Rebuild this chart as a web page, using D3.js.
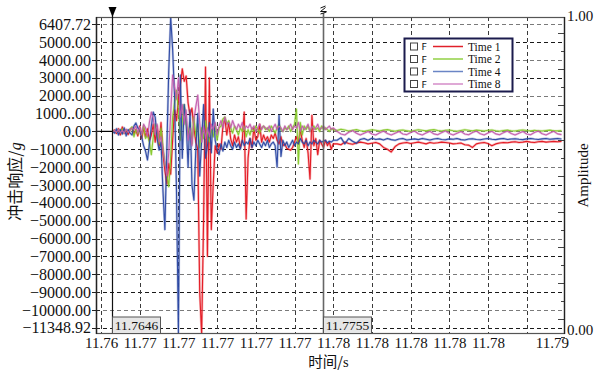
<!DOCTYPE html>
<html><head><meta charset="utf-8">
<script src="https://cdn.jsdelivr.net/npm/d3@7/dist/d3.min.js"></script>
<style>
body{margin:0;background:#fff}
svg{display:block}
text{font-family:"Liberation Serif","Times New Roman","DejaVu Serif",serif;fill:#111}
</style>
</head><body>
<svg id="chart" width="595" height="370"></svg>
<script>
// ---------- DATA ----------
const times = [
11.7646,11.7647,11.7648,11.7649,11.7650,11.7651,11.7652,11.7653,11.7654,11.7655,
11.7656,11.7657,11.7658,11.7659,11.7660,11.7661,11.7662,11.7663,11.7664,11.7665,
11.7666,11.7667,11.7668,11.7669,11.7670,11.7671,11.7672,11.7673,11.7674,11.7675,
11.7676,11.7677,11.7678,11.7679,11.7680,11.7681,11.7682,11.7683,11.7684,11.7685,
11.7686,11.7687,11.7688,11.7689,11.7690,11.7691,11.7692,11.7693,11.7694,11.7695,
11.7696,11.7697,11.7698,11.7699,11.7700,11.7701,11.7702,11.7703,11.7704,11.7705,
11.7706,11.7707,11.7708,11.7709,11.7710,11.7711,11.7712,11.7713,11.7714,11.7715,
11.7716,11.7717,11.7718,11.7719,11.7720,11.7721,11.7722,11.7723,11.7724,11.7725,
11.7726,11.7727,11.7728,11.7729,11.7730,11.7731,11.7732,11.7733,11.7734,11.7735,
11.7736,11.7737,11.7738,11.7739,11.7740,11.7741,11.7742,11.7743,11.7744,11.7745,
11.7746,11.7747,11.7748,11.7749,11.7750,11.7751,11.7752,11.7753,11.7754,11.7755,
11.7756,11.7757,11.7758,11.7759,11.7760,
11.7762,11.7764,11.7766,11.7768,11.7770,11.7772,11.7774,11.7776,11.7778,11.7780,
11.7782,11.7784,11.7786,11.7788,11.7790,11.7792,11.7794,11.7796,11.7798,11.7800,
11.7802,11.7804,11.7806,11.7808,11.7810,11.7812,11.7814,11.7816,11.7818,11.7820,
11.7822,11.7824,11.7826,11.7828,11.7830,11.7832,11.7834,11.7836,11.7838,11.7840,
11.7842,11.7844,11.7846,11.7848,11.7850,11.7852,11.7854,11.7856,11.7858,11.7860,
11.7862,11.7864,11.7866,11.7868,11.7870,11.7872,11.7874,11.7876,11.7878
];

const time1 = [
0,80,-120,150,-200,250,-100,60,-180,120,
200,-150,100,-250,300,-400,200,-300,150,-500,
-200,400,-600,300,-800,500,-1200,-2200,-2950,-1800,
-2400,-500,1200,600,1800,2600,3500,2800,3100,1600,
900,1300,200,-600,-1000,-9000,-11349,-5000,3600,-7000,
3000,-5500,-2950,-800,-1200,-700,-1000,300,700,-200,
500,-400,-800,-200,-600,-300,-900,-500,1080,-4900,
-1500,-400,-900,200,-500,-300,400,-600,-200,-500,
-300,-600,-200,-400,-100,-500,-700,-300,-800,-700,
-950,-1000,-1050,-900,-600,-300,-700,100,-500,-900,
-400,-1200,-2670,900,-800,-400,-1300,-500,-700,-900,
-500,-800,-600,-1000,-700,
-700,-750,-600,-680,-720,-650,-600,-640,-700,-660,
-620,-700,-900,-1000,-1150,-850,-700,-650,-620,-680,
-640,-600,-650,-700,-620,-660,-640,-600,-620,-650,
-700,-680,-650,-750,-770,-900,-700,-650,-620,-680,
-800,-700,-650,-620,-640,-600,-580,-620,-600,-560,
-600,-620,-580,-560,-600,-580,-560,-580,-560
];

const time2 = [
0,50,-60,100,-80,150,-100,80,-50,120,
250,-300,100,-150,200,-250,300,-400,-200,-600,
-1300,-300,400,-200,-700,200,-900,-1800,-2400,-3100,
-1500,800,1600,2300,1200,-500,600,1500,400,-200,
500,-700,800,-300,400,-900,200,-400,600,-200,
-600,100,-300,400,-500,200,300,700,800,400,
600,200,-100,300,100,-200,200,0,300,-300,
100,-200,200,0,300,100,-100,200,300,100,
200,0,300,100,-100,200,400,100,0,200,
100,300,0,200,400,1250,-1830,500,-200,300,
100,300,0,200,300,100,200,0,300,100,
200,100,0,150,100,
50,120,80,20,60,100,40,0,50,90,
60,20,70,100,50,10,60,80,40,0,
50,90,60,30,70,100,50,20,60,80,
40,10,50,90,60,30,70,50,20,60,
80,40,10,50,70,40,20,60,80,50,
30,60,40,20,50,70,40,30,50
];

const time4 = [
0,-100,150,-200,100,-150,200,-250,100,-100,
-200,300,470,200,100,-300,-800,-1100,-1600,-700,
300,1080,800,-400,-1050,-600,-3300,-5500,-1000,3400,
6400,4600,2000,-3300,-11349,3150,-1500,1500,500,-2000,
1200,-3000,-3850,-1000,1000,-2500,-500,1500,-1500,-800,
500,-1200,1250,-500,-1000,-1300,-700,-1100,-600,-900,
-500,-800,-1000,-600,-900,-700,-1000,-500,-800,-600,
-700,-400,-900,-600,-800,-500,-700,-900,-600,-800,
-500,-900,-700,-600,-800,-2000,900,-1400,-500,-800,
-600,-900,-700,-500,-800,-600,-700,-400,-600,-700,
-500,-800,-600,-700,-500,-600,-700,-500,-600,-550,
-500,-650,-550,-600,-500,
-500,-350,-700,-400,-550,-670,-450,-400,-500,-380,
-450,-420,-480,-400,-460,-500,-430,-400,-480,-450,
-420,-460,-400,-440,-480,-430,-400,-450,-470,-420,
-440,-400,-460,-480,-430,-410,-450,-470,-430,-400,
-440,-460,-420,-400,-450,-430,-410,-440,-460,-420,
-400,-430,-450,-420,-400,-440,-420,-400,-430
];

const time8 = [
0,50,-50,100,-80,60,-100,120,-60,80,
200,100,300,-100,250,-200,400,200,-300,500,
1080,700,-200,400,-600,-300,-1000,-1800,-2500,-1200,
1000,3150,2500,1800,3000,800,1500,400,1200,-500,
200,-800,600,1400,2030,500,-600,300,-400,200,
-300,400,100,500,-200,300,600,200,800,400,
500,200,600,300,100,400,200,500,100,300,
200,400,100,300,0,200,400,100,300,200,
100,300,0,200,400,100,300,200,0,300,
100,200,400,100,300,200,500,0,300,100,
200,400,0,300,100,200,400,100,200,300,
100,200,300,100,200,
0,-150,-200,-50,50,-100,-200,-100,0,-150,
-200,-80,20,-120,-200,-100,0,-150,-180,-60,
20,-130,-200,-90,10,-140,-190,-70,30,-120,
-200,-100,0,-150,-190,-60,20,-130,-200,-90,
10,-140,-190,-70,20,-120,-200,-100,0,-150,
-190,-60,20,-130,-200,-90,10,-140,-180
];

const preTriggerTimes = [11.76374, 11.7646];
const preTriggerValues = [0, 0];

const seriesNames = ["Time 1", "Time 2", "Time 4", "Time 8"];
const seriesColors = ["#e3141e", "#86c82a", "#2a47a3", "#c25cad"];
const legendColors = ["#e0202a", "#92d044", "#6a85c5", "#d58cc8"];

const xDomain = [11.76374, 11.78798];
const yDomain = [-11348.92, 6407.72];

const yTickValues = [6407.72,5000,4000,3000,2000,1000,0,-1000,-2000,-3000,-4000,-5000,-6000,-7000,-8000,-9000,-10000,-11348.92];
const yTickLabels = ["6407.72","5000.00","4000.00","3000.00","2000.00","1000..00","0.00","\u22121000.00","\u22122000.00","\u22123000.00","\u22124000.00","\u22125000.00","\u22126000.00","\u22127000.00","\u22128000.00","\u22129000.00","\u221210000.00","\u221211348.92"];
const yGridValues = [6000,5000,4000,3000,2000,1000,0,-1000,-2000,-3000,-4000,-5000,-6000,-7000,-8000,-9000,-10000,-11000];

const xTickValues = [11.764,11.766,11.768,11.770,11.772,11.774,11.776,11.778,11.780,11.782,11.784,11.786];
const xTickLabels = ["11.76","11.77","11.77","11.77","11.77","11.77","11.78","11.78","11.78","11.78","11.78",""];
const xEndLabel = "11.79";

const cursorTimes = [11.7646, 11.7755];
const cursorLabels = ["11.7646", "11.7755"];

const ampDomain = [0, 1];
const ampTickValues = [0, 1];

// ---------- CHART ----------
const SERIF = '"Liberation Serif","Times New Roman","DejaVu Serif",serif';
const svg = d3.select("#chart");
const L = 96, T = 17, R = 565, B = 334;
const x = d3.scaleLinear().domain(xDomain).range([L, R]);
const y = d3.scaleLinear().domain(yDomain).range([B, T]);
const amp = d3.scaleLinear().domain(ampDomain).range([B, T]);

svg.append("defs").append("clipPath").attr("id", "clip")
  .append("rect").attr("x", L).attr("y", T).attr("width", R - L).attr("height", B - T);

// grid
const grid = svg.append("g");
grid.selectAll("line.h").data(yGridValues).join("line")
  .attr("x1", L).attr("x2", R)
  .attr("y1", d => Math.round(y(d)) + 0.5).attr("y2", d => Math.round(y(d)) + 0.5)
  .attr("stroke", d => (Math.abs(d / 1000) % 2 === 1) ? "#1a1a1a" : "#7a7a7a")
  .attr("stroke-width", 1).attr("stroke-dasharray", "4,3");
grid.selectAll("line.v").data(xTickValues).join("line")
  .attr("x1", d => Math.round(x(d)) + 0.5).attr("x2", d => Math.round(x(d)) + 0.5)
  .attr("y1", T).attr("y2", B)
  .attr("stroke", "#3a3a3a").attr("stroke-width", 1).attr("stroke-dasharray", "4,3");

// data lines
const plot = svg.append("g").attr("clip-path", "url(#clip)");
const line = d3.line().x((d, i) => x(times[i])).y(d => y(d));
const seriesData = [time1, time2, time4, time8];

plot.append("path")
  .attr("d", d3.line().x((d, i) => x(preTriggerTimes[i])).y(d => y(d))(preTriggerValues))
  .attr("fill", "none").attr("stroke", "#000").attr("stroke-width", 1.2);

seriesData.forEach((vals, k) => {
  plot.append("path").attr("d", line(vals))
    .attr("fill", "none").attr("stroke", seriesColors[k])
    .attr("stroke-width", 2.4).attr("stroke-opacity", 0.3).attr("stroke-linejoin", "round");
});
seriesData.forEach((vals, k) => {
  plot.append("path").attr("d", line(vals))
    .attr("fill", "none").attr("stroke", seriesColors[k])
    .attr("stroke-width", 1.1).attr("stroke-opacity", 0.95).attr("stroke-linejoin", "round");
});

// frame
svg.append("rect").attr("x", L + 0.5).attr("y", T + 0.5).attr("width", R - L - 1).attr("height", B - T - 1)
  .attr("fill", "none").attr("stroke", "#555").attr("stroke-width", 1.2);
svg.append("line").attr("x1", L + 0.5).attr("x2", L + 0.5).attr("y1", T).attr("y2", B)
  .attr("stroke", "#222").attr("stroke-width", 1.4);

// left ticks (crossing)
svg.append("g").selectAll("line").data(yGridValues).join("line")
  .attr("x1", L - 4).attr("x2", L + 4)
  .attr("y1", d => Math.round(y(d)) + 0.5).attr("y2", d => Math.round(y(d)) + 0.5)
  .attr("stroke", "#222").attr("stroke-width", 1);

// left axis labels
const yAxis = d3.axisLeft(y).tickValues(yTickValues)
  .tickFormat((d, i) => yTickLabels[i]).tickSize(0).tickPadding(5);
const gy = svg.append("g").attr("transform", `translate(${L},0)`).call(yAxis);
gy.attr("font-family", null).attr("font-size", null);
gy.select(".domain").remove();
gy.selectAll("text").style("font-size", "16px").style("font-family", SERIF).attr("fill", "#111");
gy.selectAll(".tick").filter((d, i) => i === 0).select("text").attr("dy", "0.8em");
gy.selectAll(".tick").filter((d, i) => i === yTickValues.length - 1).select("text").attr("dy", "-0.1em");

// bottom axis labels
const xAxis = d3.axisBottom(x).tickValues(xTickValues)
  .tickFormat((d, i) => xTickLabels[i]).tickSize(0).tickPadding(3);
const gx = svg.append("g").attr("transform", `translate(0,${B})`).call(xAxis);
gx.attr("font-family", null).attr("font-size", null);
gx.select(".domain").remove();
gx.selectAll("text").style("font-size", "15px").style("font-family", SERIF).attr("fill", "#111");
svg.append("text").attr("x", x(xDomain[1]) + 4).attr("y", B + 14)
  .attr("text-anchor", "end").style("font-size", "15px").style("font-family", SERIF).text(xEndLabel);

// right axis
const rTicks = svg.append("g");
rTicks.selectAll("line").data(yGridValues).join("line")
  .attr("x1", (d, i) => R - (i % 2 === 0 ? 7 : 4)).attr("x2", R)
  .attr("y1", d => Math.round(y(d) + 8.9) + 0.5).attr("y2", d => Math.round(y(d) + 8.9) + 0.5)
  .attr("stroke", "#444").attr("stroke-width", 1);
svg.append("line").attr("x1", R - 0.5).attr("x2", R - 0.5).attr("y1", T).attr("y2", B)
  .attr("stroke", "#222").attr("stroke-width", 1.3);
const ampAxis = d3.axisRight(amp).tickValues(ampTickValues).tickFormat(d3.format(".2f")).tickSize(0).tickPadding(2);
const ga = svg.append("g").attr("transform", `translate(${R},0)`).call(ampAxis);
ga.attr("font-family", null).attr("font-size", null);
ga.select(".domain").remove();
ga.selectAll("text").style("font-size", "15px").style("font-family", SERIF).attr("fill", "#111");
ga.selectAll(".tick").filter(d => d === 1).select("text").attr("dy", "0.2em");
ga.selectAll(".tick").filter(d => d === 0).select("text").attr("dy", "0.05em");

// axis titles
svg.append("text").attr("transform", `translate(21,${(T + B) / 2 + 6}) rotate(-90)`)
  .attr("text-anchor", "middle").style("font-size", "16px")
  .call(t => {
    t.append("tspan").style("font-family", "'Noto Sans CJK SC',sans-serif").text("冲击响应/");
    t.append("tspan").style("font-family", SERIF).style("font-style", "italic").text("g");
  });
svg.append("text").attr("transform", `translate(588,${(T + B) / 2}) rotate(-90)`)
  .attr("text-anchor", "middle").style("font-size", "15px").style("font-family", SERIF).text("Amplitude");
svg.append("text").attr("x", (L + R) / 2 - 2).attr("y", 367)
  .attr("text-anchor", "middle").style("font-size", "14.5px")
  .call(t => {
    t.append("tspan").style("font-family", "'Noto Sans CJK SC',sans-serif").text("时间/");
    t.append("tspan").style("font-family", SERIF).text("s");
  });

// cursors
cursorTimes.forEach((ct, k) => {
  const cx = Math.round(x(ct)) - 0.5;
  svg.append("line").attr("x1", cx).attr("x2", cx).attr("y1", k === 0 ? 14 : 13).attr("y2", B)
    .attr("stroke", k === 0 ? "#111" : "#666").attr("stroke-width", k === 0 ? 1.2 : 1.6);
  const g = svg.append("g").attr("transform", `translate(${cx},${B})`);
  g.append("rect").attr("x", 0).attr("y", -17).attr("width", 48).attr("height", 16.5)
    .attr("fill", "#e6e6e6").attr("stroke", "#555").attr("stroke-width", 1);
  g.append("text").attr("x", 24).attr("y", -4).attr("text-anchor", "middle")
    .style("font-size", "13.5px").style("font-family", SERIF).attr("fill", "#333").text(cursorLabels[k]);
});
// cursor markers
{
  const c0 = Math.round(x(cursorTimes[0])) - 0.5;
  svg.append("path").attr("d", `M${c0 - 4},7 L${c0 + 4},7 L${c0},17 Z`).attr("fill", "#000");
  const c1 = Math.round(x(cursorTimes[1])) - 0.5;
  svg.append("path").attr("d", `M${c1 - 3},8 L${c1 + 2},6 M${c1 + 2},7.5 L${c1 - 3},11.5 L${c1 + 3},11.5 M${c1 - 3},14 L${c1 + 3},12`)
    .attr("fill", "none").attr("stroke", "#111").attr("stroke-width", 1);
}

// legend
const lg = svg.append("g").attr("transform", "translate(404,38)");
lg.append("rect").attr("x", 0.5).attr("y", 0.5).attr("width", 108).attr("height", 53)
  .attr("fill", "#fff").attr("stroke", "#1b1b4d").attr("stroke-width", 2);
seriesNames.forEach((name, k) => {
  const ry = 8.5 + k * 12.5;
  lg.append("rect").attr("x", 6.5).attr("y", ry - 3.5).attr("width", 7).attr("height", 7)
    .attr("fill", "#fff").attr("stroke", "#444").attr("stroke-width", 1);
  lg.append("text").attr("x", 17.5).attr("y", ry + 3.5)
    .style("font-family", "'DejaVu Sans',sans-serif").style("font-size", "9.5px").attr("fill", "#333").text("F");
  lg.append("line").attr("x1", 29).attr("x2", 59).attr("y1", ry).attr("y2", ry)
    .attr("stroke", legendColors[k]).attr("stroke-width", 1.5);
  lg.append("text").attr("x", 64).attr("y", ry + 4)
    .style("font-size", "11.5px").style("font-family", SERIF).text(name);
});
</script>
</body></html>
